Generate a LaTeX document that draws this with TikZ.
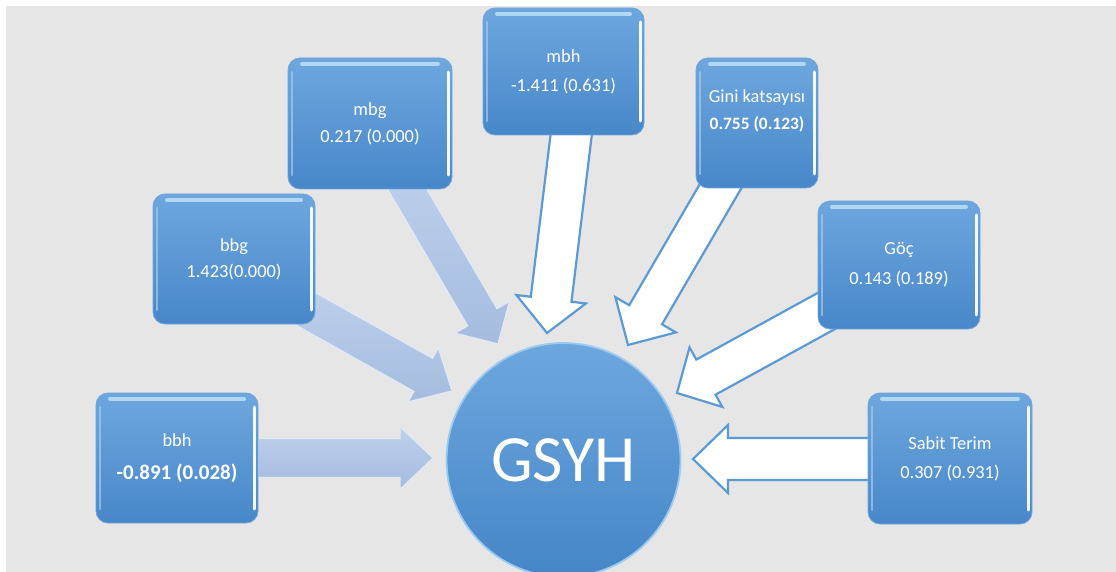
\documentclass[tikz,border=0pt]{standalone}
\usepackage{fontspec}
\setmainfont{Carlito}
\usetikzlibrary{calc}
\definecolor{bg}{HTML}{E6E6E6}
\definecolor{boxtop}{HTML}{6EA7DE}
\definecolor{boxbot}{HTML}{4787C9}
\definecolor{boxedge}{HTML}{6FA6DA}
\definecolor{hilite}{HTML}{C2E5FB}
\definecolor{arrline}{HTML}{5B9BD5}
\definecolor{lighttop}{HTML}{BED1EC}
\definecolor{lightbot}{HTML}{A5BCDF}
\definecolor{circtop}{HTML}{6DA7DE}
\definecolor{circbot}{HTML}{4586C8}
\definecolor{circedge}{HTML}{9CCBF0}
% #1 id, #2 start, #3 tip, #4 half shaft, #5 half head, #6 head length, #7 style
\newcommand{\blockarrow}[7]{%
  \coordinate (#1b) at ($(#3)!#6!(#2)$);
  \path[#7] ($(#2)!#4!90:(#3)$) -- ($(#1b)!#4!90:(#3)$) -- ($(#1b)!#5!90:(#3)$)
    -- (#3) -- ($(#1b)!#5!-90:(#3)$) -- ($(#1b)!#4!-90:(#3)$) -- ($(#2)!#4!-90:(#3)$) -- cycle;
}
\tikzset{
  box/.style={rounded corners=12, inner sep=0, align=center, text=white,
    top color=boxtop, bottom color=boxbot, draw=boxedge, line width=0.8,
    font=\fontsize{18.4}{28}\selectfont,
    path picture={
      \draw[line width=4, hilite, line cap=round, opacity=0.8]
        ([xshift=14pt,yshift=-6pt]path picture bounding box.north west) --
        ([xshift=-14pt,yshift=-6pt]path picture bounding box.north east);
      \draw[line width=3, white!80!hilite, line cap=round]
        ([xshift=-4pt,yshift=-14pt]path picture bounding box.north east) --
        ([xshift=-4pt,yshift=14pt]path picture bounding box.south east);
      \draw[line width=2.5, white!40!boxtop, line cap=round, opacity=0.7]
        ([xshift=4pt,yshift=-14pt]path picture bounding box.north west) --
        ([xshift=4pt,yshift=14pt]path picture bounding box.south west);
    }},
  lightarrow/.style={top color=lighttop, bottom color=lightbot, draw=white!55!lighttop, line width=1.2, line join=miter},
  whitearrow/.style={fill=white, draw=arrline, line width=2.2, line join=miter}
}
\begin{document}
\begin{tikzpicture}[x=1pt,y=-1pt]
\useasboundingbox (0,0) rectangle (1116,572);
\clip (0,0) rectangle (1116,572);
\fill[white] (0,0) rectangle (1116,572);
\fill[bg] (6,6) rectangle (1116,572);

% arrow end points
\coordinate (s1) at (258,458);   \coordinate (t1) at (433,458);
\coordinate (s2) at (290,300);   \coordinate (t2) at (452,391);
\coordinate (s3) at (396,170);   \coordinate (t3) at (498,344);
\coordinate (s4) at (573,120);   \coordinate (t4) at (547,333);
\coordinate (s5) at (730,170);   \coordinate (t5) at (628,345);
\coordinate (s6) at (850,298);   \coordinate (t6) at (677,393);
\coordinate (s7) at (880,459);   \coordinate (t7) at (693,459);

\blockarrow{a1}{s1}{t1}{19.5pt}{31.5pt}{33pt}{lightarrow}
\blockarrow{a2}{s2}{t2}{19pt}{31pt}{33pt}{lightarrow}
\blockarrow{a3}{s3}{t3}{17pt}{31.5pt}{31pt}{lightarrow}
\blockarrow{a4}{s4}{t4}{20.5pt}{35pt}{34pt}{whitearrow}
\blockarrow{a5}{s5}{t5}{19pt}{35pt}{35pt}{whitearrow}
\blockarrow{a6}{s6}{t6}{20pt}{34pt}{33pt}{whitearrow}
\blockarrow{a7}{s7}{t7}{21pt}{34pt}{35pt}{whitearrow}

% boxes
\node[box, minimum width=162, minimum height=130, font=\fontsize{18.4}{33}\selectfont] (bbh) at (177,458)
  {bbh\\{\fontsize{21}{33}\selectfont\bfseries -0.891 (0.028)}};
\node[box, minimum width=162, minimum height=130, font=\fontsize{18.4}{26}\selectfont] (bbg) at (234,259)
  {bbg\\1.423(0.000)};
\node[box, minimum width=164, minimum height=131, font=\fontsize{18.4}{27}\selectfont] (mbg) at (370,123.5)
  {mbg\\0.217 (0.000)};
\node[box, minimum width=161, minimum height=127, font=\fontsize{18.4}{29}\selectfont] (mbh) at (563.5,71.5)
  {mbh\\-1.411 (0.631)};
\node[box, minimum width=122, minimum height=130, font=\fontsize{18.4}{27}\selectfont] (gini) at (757,123)
  {Gini katsayısı\\{\fontsize{17.4}{27}\selectfont\bfseries 0.755 (0.123)}\\\mbox{}};
\node[box, minimum width=162, minimum height=128, font=\fontsize{18.4}{30}\selectfont] (goc) at (899,265)
  {Göç\\0.143 (0.189)};
\node[box, minimum width=164, minimum height=131, font=\fontsize{18.4}{29}\selectfont] (sabit) at (950,458.5)
  {Sabit Terim\\0.307 (0.931)};

% centre
\node[circle, minimum size=234, inner sep=0, top color=circtop, bottom color=circbot,
  draw=circedge, line width=1.8, text=white, font=\fontsize{66}{70}\selectfont] (gsyh) at (563.5,460) {GSYH};
\end{tikzpicture}
\end{document}
